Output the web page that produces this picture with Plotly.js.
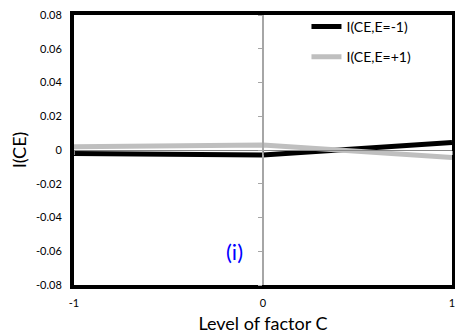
<!DOCTYPE html>
<html>
<head>
<meta charset="utf-8">
<script src="https://cdn.plot.ly/plotly-3.0.1.min.js"></script>
<style>html,body{margin:0;padding:0;background:#fff}#chart{width:455px;height:336px}</style>
</head>
<body>
<div id="chart"></div>
<script>
const levels = [-1, 0, 1];
const seriesNames = ['I(CE,E=-1)', 'I(CE,E=+1)'];
const ceEminus = [-0.002, -0.003, 0.0045];
const ceEplus = [0.002, 0.003, -0.0045];
const xTickVals = [-1, 0, 1];
const xTickText = ['-1', '0', '1'];
const yTickVals = [-0.08, -0.06, -0.04, -0.02, 0, 0.02, 0.04, 0.06, 0.08];
const yTickText = ['-0.08', '-0.06', '-0.04', '-0.02', '0', '0.02', '0.04', '0.06', '0.08'];

const FONT = 'Lato, "Liberation Sans", sans-serif';

const traces = [
  {x: levels, y: ceEminus, name: seriesNames[0], mode: 'lines', legendgroup: 'a',
   line: {color: '#000000', width: 5}},
  {x: levels, y: ceEplus, name: seriesNames[1], mode: 'lines', legendgroup: 'b',
   xaxis: 'x2', yaxis: 'y2',
   line: {color: '#bfbfbf', width: 5}}
];

const layout = {
  width: 455, height: 336,
  margin: {l: 74, r: 3, t: 15, b: 51, pad: 0},
  paper_bgcolor: '#ffffff', plot_bgcolor: '#ffffff',
  font: {family: FONT, color: '#000000'},
  showlegend: true,
  legend: {x: 0.615, y: 1.015, xanchor: 'left', yanchor: 'top', bgcolor: 'rgba(0,0,0,0)',
           font: {size: 14, family: FONT}, tracegroupgap: 9},
  xaxis: {range: [-1, 1], tickvals: xTickVals, ticktext: xTickText, ticks: '',
          showline: true, mirror: true, linecolor: '#000000', linewidth: 4,
          showgrid: false, zeroline: false, tickfont: {size: 11},
          ticklabeloverflow: 'allow', ticklabelstandoff: 5,
          title: {text: 'Level of factor C', font: {size: 18}, standoff: 10}},
  yaxis: {range: [-0.08, 0.08], tickvals: yTickVals, ticktext: yTickText, ticks: '',
          showline: true, mirror: true, linecolor: '#000000', linewidth: 4,
          showgrid: false, zeroline: false, tickfont: {size: 11}, ticklabelstandoff: 6,
          title: {text: 'I(CE)', font: {size: 18}, standoff: 6}},
  xaxis2: {overlaying: 'x', anchor: 'free', position: 0.5, range: [-1, 1],
           tickvals: xTickVals, showticklabels: false, ticks: 'outside', ticklen: 4,
           tickcolor: '#868686', showline: true, linecolor: '#868686', linewidth: 1,
           showgrid: false, zeroline: false},
  yaxis2: {overlaying: 'y', anchor: 'free', position: 0.5, range: [-0.08, 0.08],
           tickvals: yTickVals, showticklabels: false, ticks: 'outside', ticklen: 4,
           tickcolor: '#a6a6a6', showline: true, linecolor: '#a6a6a6', linewidth: 2,
           showgrid: false, zeroline: false},
  annotations: [{x: -0.15, y: -0.06, xref: 'x', yref: 'y', text: '(i)', showarrow: false,
                 font: {size: 22, color: '#0000ff', family: FONT}}]
};

Plotly.newPlot('chart', traces, layout, {staticPlot: true, displayModeBar: false});
</script>
</body>
</html>
